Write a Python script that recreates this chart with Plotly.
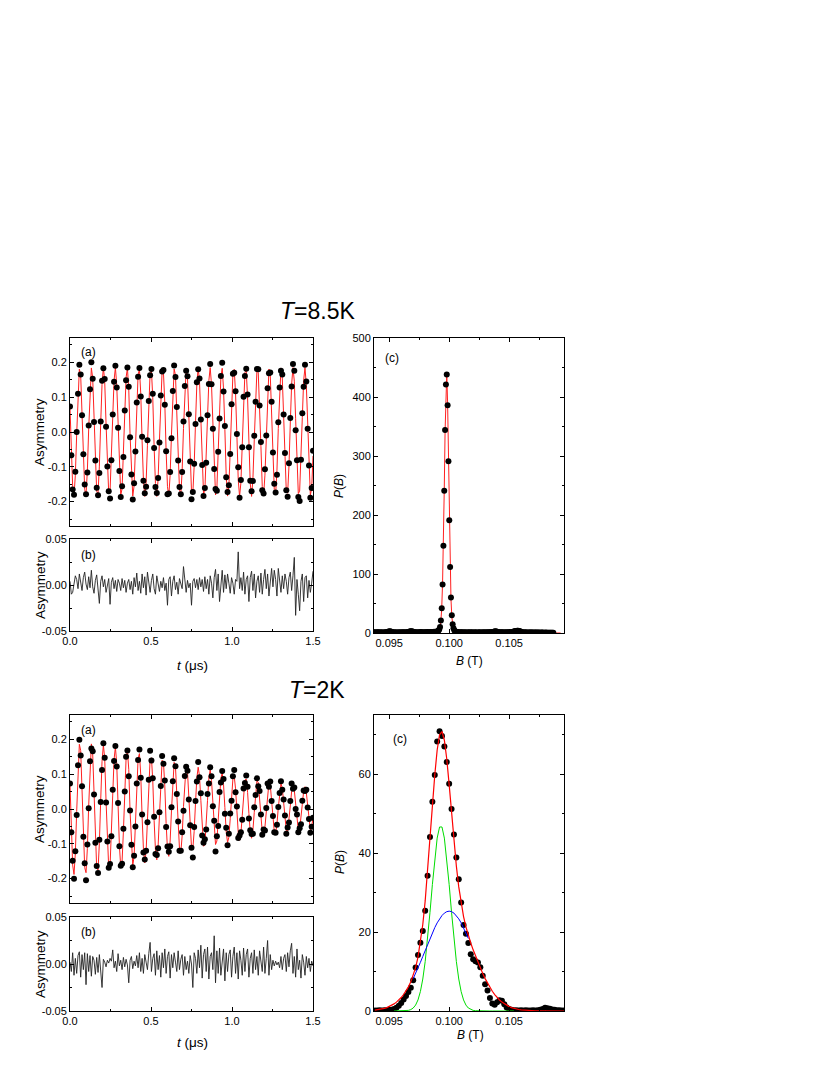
import plotly.graph_objects as go

FONT = "Liberation Sans, Arial, sans-serif"

# ---------------- muSR time spectra (time bin in microseconds) ----------------
T_BIN_US = 1.5 / 182

# T = 8.5 K : fitted asymmetry at each time bin
fit_85 = [
    0.069, -0.057, -0.157, -0.183, -0.124, -0.006, 0.114, 0.181, 0.163,
    0.054, -0.072, -0.165, -0.180, -0.111, 0.010, 0.126, 0.184, 0.155,
    0.038, -0.087, -0.171, -0.176, -0.098, 0.026, 0.137, 0.185, 0.146,
    0.023, -0.101, -0.177, -0.170, -0.084, 0.042, 0.148, 0.185, 0.135,
    0.006, -0.114, -0.181, -0.163, -0.069, 0.057, 0.157, 0.183, 0.124,
    -0.010, -0.126, -0.184, -0.155, -0.054, 0.072, 0.165, 0.180, 0.111,
    -0.026, -0.137, -0.185, -0.146, -0.038, 0.087, 0.171, 0.176, 0.098,
    -0.042, -0.148, -0.185, -0.135, -0.023, 0.101, 0.177, 0.170, 0.084,
    -0.057, -0.157, -0.183, -0.124, -0.006, 0.114, 0.181, 0.163, 0.069,
    -0.072, -0.165, -0.180, -0.111, 0.010, 0.126, 0.184, 0.155, 0.054,
    -0.087, -0.171, -0.176, -0.098, 0.026, 0.137, 0.185, 0.146, 0.038,
    -0.101, -0.177, -0.170, -0.084, 0.042, 0.148, 0.185, 0.135, 0.023,
    -0.114, -0.181, -0.163, -0.069, 0.057, 0.157, 0.183, 0.124, 0.006,
    -0.126, -0.184, -0.155, -0.054, 0.072, 0.165, 0.180, 0.111, -0.010,
    -0.137, -0.185, -0.146, -0.038, 0.087, 0.171, 0.176, 0.098, -0.026,
    -0.148, -0.185, -0.135, -0.023, 0.101, 0.177, 0.170, 0.084, -0.042,
    -0.157, -0.183, -0.124, -0.006, 0.114, 0.181, 0.163, 0.069, -0.057,
    -0.165, -0.180, -0.111, 0.010, 0.126, 0.184, 0.155, 0.054, -0.072,
    -0.171, -0.176, -0.098, 0.026, 0.137, 0.185, 0.146, 0.038, -0.087,
    -0.177, -0.170, -0.084, 0.042, 0.148, 0.185, 0.135, 0.023, -0.101,
    -0.181, -0.163, -0.069,
]

# T = 8.5 K : residual (data - fit)
resid_85 = [
    0.004, -0.010, -0.008, 0.003, 0.010, 0.006, -0.004, 0.012, 0.002, -0.006,
    0.008, 0.014, 0.001, -0.005, 0.009, -0.003, 0.016, -0.002, -0.009, 0.005,
    0.011, -0.006, -0.020, 0.004, 0.010, -0.002, 0.006, -0.008, 0.002, 0.007,
    -0.021, 0.003, 0.008, -0.004, 0.005, -0.007, 0.006, 0.002, -0.006, 0.007,
    -0.003, 0.005, -0.008, 0.002, 0.006, -0.005, 0.004, -0.010, 0.008, -0.002,
    0.013, -0.006, 0.004, -0.009, 0.012, -0.003, 0.009, -0.011, 0.014, 0.002,
    -0.008, 0.005, 0.012, -0.004, -0.010, 0.010, 0.003, -0.007, 0.004, -0.003,
    0.008, -0.006, 0.002, -0.022, 0.006, 0.009, -0.012, 0.004, 0.010, -0.005,
    0.003, -0.010, 0.007, 0.001, -0.004, 0.020, 0.006, -0.008, 0.005, -0.003,
    0.002, -0.022, 0.004, 0.007, -0.003, 0.006, -0.005, 0.008, -0.002, 0.006,
    -0.007, 0.009, -0.004, 0.006, -0.010, 0.010, 0.002, -0.014, 0.008, 0.017,
    -0.006, 0.012, -0.018, 0.004, 0.016, -0.008, 0.011, -0.004, 0.012, 0.002,
    -0.009, 0.008, 0.002, -0.010, 0.006, 0.004, 0.036, -0.004, 0.008, -0.006,
    0.014, -0.010, 0.006, 0.010, -0.018, 0.008, 0.015, -0.006, 0.012, -0.014,
    0.004, 0.010, -0.008, 0.013, -0.010, 0.006, 0.017, -0.004, 0.012, -0.012,
    0.008, 0.018, -0.002, 0.016, 0.006, -0.012, 0.018, 0.002, -0.008, 0.010,
    -0.004, 0.012, 0.004, -0.010, 0.008, 0.014, -0.006, 0.010, 0.030, -0.033,
    0.006, -0.010, -0.028, 0.004, 0.012, -0.018, 0.008, 0.010, -0.014, 0.005,
    -0.008, 0.002, 0.015,
]

# T = 2 K : fitted asymmetry at each time bin
fit_2 = [
    0.071, -0.059, -0.161, -0.188, -0.127, -0.007, 0.117, 0.186, 0.168,
    0.055, -0.074, -0.168, -0.183, -0.113, 0.010, 0.128, 0.187, 0.158,
    0.038, -0.086, -0.171, -0.175, -0.098, 0.026, 0.137, 0.184, 0.145,
    0.022, -0.097, -0.170, -0.164, -0.081, 0.040, 0.142, 0.178, 0.130,
    0.006, -0.105, -0.167, -0.151, -0.064, 0.053, 0.145, 0.169, 0.114,
    -0.008, -0.111, -0.162, -0.137, -0.048, 0.064, 0.145, 0.159, 0.098,
    -0.022, -0.115, -0.155, -0.122, -0.032, 0.073, 0.144, 0.147, 0.082,
    -0.033, -0.117, -0.146, -0.107, -0.018, 0.080, 0.140, 0.134, 0.066,
    -0.042, -0.116, -0.136, -0.092, -0.005, 0.084, 0.134, 0.121, 0.051,
    -0.050, -0.114, -0.125, -0.077, 0.007, 0.087, 0.127, 0.107, 0.037,
    -0.056, -0.111, -0.114, -0.064, 0.017, 0.089, 0.120, 0.095, 0.025,
    -0.061, -0.107, -0.103, -0.051, 0.025, 0.089, 0.112, 0.082, 0.014,
    -0.064, -0.102, -0.092, -0.039, 0.032, 0.088, 0.103, 0.070, 0.004,
    -0.066, -0.096, -0.081, -0.028, 0.038, 0.086, 0.094, 0.058, -0.005,
    -0.067, -0.090, -0.071, -0.019, 0.042, 0.083, 0.086, 0.048, -0.013,
    -0.067, -0.084, -0.061, -0.010, 0.046, 0.080, 0.077, 0.038, -0.019,
    -0.066, -0.077, -0.052, -0.003, 0.048, 0.076, 0.069, 0.029, -0.024,
    -0.065, -0.071, -0.044, 0.004, 0.050, 0.072, 0.061, 0.021, -0.029,
    -0.063, -0.065, -0.036, 0.009, 0.051, 0.068, 0.054, 0.014, -0.032,
    -0.061, -0.059, -0.029, 0.014, 0.051, 0.064, 0.047, 0.008, -0.035,
    -0.060, -0.054, -0.023,
]

# T = 2 K : residual (data - fit)
resid_2 = [
    0.002, -0.008, 0.012, -0.012, 0.006, -0.010, 0.009, 0.013, -0.014, 0.010,
    -0.006, 0.012, -0.022, 0.011, -0.008, 0.009, -0.013, 0.008, 0.004, -0.011,
    0.007, -0.009, 0.010, -0.006, -0.025, 0.005, 0.002, -0.003, 0.004, 0.001,
    0.006, 0.003, 0.015, -0.004, 0.003, -0.008, 0.011, -0.002, 0.004, -0.006,
    0.007, -0.003, 0.005, -0.001, -0.020, 0.004, 0.008, -0.005, 0.003, -0.002,
    0.009, -0.004, 0.012, -0.008, 0.006, -0.010, 0.010, 0.002, -0.006, 0.011,
    0.023, -0.008, 0.006, 0.011, -0.012, 0.014, -0.006, 0.009, -0.014, 0.012,
    -0.004, 0.016, -0.010, 0.008, 0.013, -0.015, 0.010, -0.004, 0.012, 0.002,
    -0.008, 0.014, -0.006, 0.005, 0.010, -0.012, 0.008, -0.006, 0.003, -0.010,
    0.009, 0.000, -0.025, 0.012, 0.006, -0.010, 0.015, -0.004, 0.020, -0.015,
    0.010, 0.016, -0.008, 0.018, -0.016, 0.008, 0.012, -0.006, 0.030, -0.020,
    0.014, -0.010, 0.017, -0.012, 0.006, 0.016, -0.018, 0.012, -0.008, 0.010,
    0.015, -0.014, 0.008, 0.018, -0.010, 0.012, -0.016, 0.014, 0.004, -0.012,
    0.017, -0.008, 0.010, 0.016, -0.014, 0.006, 0.012, -0.010, 0.015, -0.006,
    0.008, -0.012, 0.014, 0.003, -0.008, 0.018, -0.010, 0.006, 0.025, -0.012,
    0.010, -0.006, 0.004, -0.002, 0.003, -0.001, 0.002, -0.004, 0.008, -0.006,
    0.006, 0.010, -0.008, 0.012, -0.003, 0.014, 0.022, -0.010, 0.008, -0.014,
    0.016, -0.006, 0.004, -0.015, 0.010, 0.002, -0.012, 0.008, -0.004, 0.006,
    -0.008, 0.003, -0.002,
]

# ---------------- field distributions P(B) ----------------
B85_START, B85_STEP = 0.09364, 0.00007
pb_85 = [
    1.0, 0.8, 1.2, 0.9, 0.6, 1.1, 1.4, 0.9, 0.7, 1.0,
    1.3, 0.8, 0.5, 0.9, 1.2, 1.0, 1.4, 1.8, 2.2, 2.6,
    2.8, 2.5, 2.0, 1.5, 1.0, 0.7, 0.9, 1.1, 0.8, 0.6,
    0.9, 1.2, 1.0, 0.7, 0.9, 1.3, 1.1, 0.8, 1.0, 1.2,
    0.9, 1.1, 1.5, 2.0, 2.4, 2.8, 3.0, 2.7, 2.2, 1.6,
    1.1, 0.8, 1.0, 1.3, 0.9, 0.7, 1.2, 1.5, 1.1, 0.8,
    1.0, 1.4, 1.2, 0.9, 1.3, 1.7, 1.4, 1.0, 1.2, 1.6,
    1.3, 1.0, 1.5, 2.0, 1.6, 1.8, 2.4, 3.0, 4.0, 6.0,
    10, 21, 42, 82, 148, 241, 344, 421, 438, 386,
    291, 191, 112, 60, 30, 15, 8, 4.5, 3.0, 2.2,
    1.8, 1.5, 1.2, 1.0, 0.8, 1.1, 1.3, 0.9, 0.7, 1.0,
    1.2, 0.9, 0.6, 0.8, 1.1, 1.0, 0.7, 0.9, 1.2, 0.8,
    0.6, 0.9, 1.1, 0.8, 0.5, 0.7, 1.0, 1.2, 0.9, 0.6,
    0.8, 1.1, 0.9, 0.7, 1.0, 1.3, 1.0, 0.8, 1.1, 1.4,
    1.0, 1.2, 1.5, 1.9, 2.3, 2.6, 2.8, 2.7, 2.3, 1.8,
    1.3, 1.0, 0.8, 1.1, 1.2, 0.9, 0.8, 1.0, 1.3, 1.0,
    0.8, 1.1, 1.4, 1.2, 0.9, 1.2, 1.6, 2.0, 2.5, 2.9,
    3.3, 3.6, 3.8, 3.9, 3.6, 3.1, 2.5, 1.9, 1.4, 1.0,
    0.7, 0.9, 1.1, 0.8, 0.6, 0.8, 1.0, 0.9, 0.7, 0.8,
    1.0, 0.8, 0.6, 0.7, 0.9, 0.8, 0.6, 0.7, 0.8, 0.6,
    0.5, 0.7, 0.8, 0.6, 0.5, 0.6, 0.7, 0.5, 0.4, 0.6,
    0.5, 0.4, 0.5, 0.3, 0.4, 0.3,
]
fitB_85 = [0.0937, 0.09910, 0.09917, 0.09924, 0.09931, 0.09938, 0.09945, 0.09952,
           0.09959, 0.09966, 0.09973, 0.09980, 0.09987, 0.09994, 0.10001, 0.10008,
           0.10015, 0.10022, 0.10029, 0.10036, 0.10043, 0.10050, 0.1093]
fitP_85 = [0, 0.5, 2.5, 8, 20, 42, 85, 150, 243, 342, 418, 440, 390, 295, 195,
           113, 58, 28, 12, 5, 2, 0.5, 0]

B2_START, B2_STEP = 0.0938, 0.0002
pb_2 = [
    0.1, 0.1, 0.2, 0.1, 0.2, 0.2, 0.3, 0.3, 0.5, 0.8,
    1.3, 2.0, 2.9, 3.8, 4.8, 5.9, 7.8, 11.0, 14.2, 17.3,
    20.3, 25.4, 34.3, 44.1, 53.0, 59.8, 68.3, 70.9, 69.7, 67.0,
    63.1, 57.6, 51.2, 44.7, 38.9, 33.4, 27.5, 21.8, 19.6, 17.2,
    14.4, 13.1, 12.6, 12.3, 11.1, 8.9, 6.8, 5.2, 3.3, 1.9,
    1.6, 2.2, 2.7, 2.6, 1.7, 0.9, 0.5, 0.3, 0.2, 0.2,
    0.1, 0.2, 0.1, 0.2, 0.1, 0.1, 0.2, 0.1, 0.2, 0.3,
    0.5, 0.8, 0.7, 0.6, 0.4, 0.3, 0.2, 0.2, 0.1, 0.1,
]
fit_total_2 = [
    0.21, 0.28, 0.38, 0.50, 0.66, 0.86, 1.11, 1.42, 1.80, 2.25,
    2.79, 3.42, 4.18, 5.08, 6.12, 7.39, 8.97, 11.00, 13.67, 17.24,
    21.92, 27.89, 35.15, 43.33, 51.85, 59.80, 66.14, 69.98, 70.82, 68.61,
    63.84, 57.35, 50.13, 43.07, 36.74, 31.45, 27.25, 23.93, 21.30, 19.13,
    17.24, 15.50, 13.89, 12.35, 10.88, 9.50, 8.21, 7.03, 5.96, 5.01,
    4.16, 3.42, 2.79, 2.25, 1.80, 1.42, 1.11, 0.86, 0.66, 0.50,
    0.38, 0.28, 0.21, 0.15, 0.11, 0.08, 0.06, 0.04, 0.03, 0.02,
    0.01, 0.01, 0.01, 0, 0, 0, 0, 0, 0, 0,
]
fit_narrow_2 = (
    [None] * 8
    + [0, 0, 0, 0, 0.03, 0.07, 0.16, 0.36, 0.76, 1.50, 2.80, 4.92, 8.10, 12.55,
       18.27, 24.96, 32.05, 38.67, 43.81, 46.63, 46.63, 43.81, 38.67, 32.05,
       24.96, 18.27, 12.55, 8.10, 4.92, 2.80, 1.50, 0.76, 0.36, 0.16, 0.07,
       0.03, 0.01]
    + [0] * 14
    + [None] * 21
)
fit_broad_2 = (
    [None] * 16
    + [8.21, 9.50, 10.87, 12.32, 13.82, 15.34, 16.88, 18.37, 19.80, 21.13,
       22.33, 23.35, 24.19, 24.80, 25.17, 25.30, 25.17, 24.80, 24.19, 23.35,
       22.33, 21.13, 19.80, 18.37]
    + [None] * 40
)

# derived grids / series
t_85 = [i * T_BIN_US for i in range(len(fit_85))]
t_2 = [i * T_BIN_US for i in range(len(fit_2))]
asym_85 = [round(f + r, 4) for f, r in zip(fit_85, resid_85)]
asym_2 = [round(f + r, 4) for f, r in zip(fit_2, resid_2)]
B_85 = [B85_START + i * B85_STEP for i in range(len(pb_85))]
B_2 = [B2_START + i * B2_STEP for i in range(len(pb_2))]

asym_ticks = [-0.2, -0.1, 0.0, 0.1, 0.2]
asym_ticktext = ["-0.2", "-0.1", "0.0", "0.1", "0.2"]
res_ticks = [-0.05, 0.0, 0.05]
res_ticktext = ["-0.05", "0.00", "0.05"]
t_ticks = [0.0, 0.5, 1.0, 1.5]
t_ticktext = ["0.0", "0.5", "1.0", "1.5"]
B_ticks = [0.095, 0.100, 0.105]
B_ticktext = ["0.095", "0.100", "0.105"]

W, H = 830, 1075
OFF = 8  # page margin around the plot div


def px_x(a, b):
    return [(a - OFF) / W, (b - OFF) / W]


def px_y(top, bottom):
    return [1 - (bottom - OFF) / H, 1 - (top - OFF) / H]


def axis(domain, rng, anchor, tickvals=None, ticktext=None, dtick=None,
         minor_dtick=None, labels=True):
    d = dict(domain=domain, range=rng, anchor=anchor, showline=True,
             linecolor="black", linewidth=1, mirror="allticks", ticks="inside",
             ticklen=4, tickwidth=1, tickcolor="black", showgrid=False,
             zeroline=False, showticklabels=labels, automargin=False,
             tickfont=dict(family=FONT, size=11, color="black"))
    if tickvals is not None:
        d.update(tickmode="array", tickvals=tickvals, ticktext=ticktext)
    else:
        d.update(tickmode="linear", tick0=0, dtick=dtick)
    if minor_dtick:
        d["minor"] = dict(ticks="inside", ticklen=2, tickcolor="black",
                          tick0=0, dtick=minor_dtick, showgrid=False)
    return d


fig = go.Figure()

# ---- T=8.5K (a)
fig.add_trace(go.Scatter(x=t_85, y=fit_85, mode="lines",
                         line=dict(color="#ff2020", width=1), xaxis="x", yaxis="y"))
fig.add_trace(go.Scatter(x=t_85, y=asym_85, mode="markers",
                         marker=dict(color="black", size=6), xaxis="x", yaxis="y"))
# ---- T=8.5K (b)
fig.add_trace(go.Scatter(x=t_85, y=resid_85, mode="lines",
                         line=dict(color="#222222", width=0.9), xaxis="x2", yaxis="y2"))
# ---- T=8.5K (c)
fig.add_trace(go.Scatter(x=fitB_85, y=fitP_85, mode="lines",
                         line=dict(color="#ff2020", width=1), xaxis="x3", yaxis="y3"))
fig.add_trace(go.Scatter(x=B_85, y=pb_85, mode="markers",
                         marker=dict(color="black", size=6), xaxis="x3", yaxis="y3"))
# ---- T=2K (a)
fig.add_trace(go.Scatter(x=t_2, y=fit_2, mode="lines",
                         line=dict(color="#ff2020", width=1), xaxis="x4", yaxis="y4"))
fig.add_trace(go.Scatter(x=t_2, y=asym_2, mode="markers",
                         marker=dict(color="black", size=6), xaxis="x4", yaxis="y4"))
# ---- T=2K (b)
fig.add_trace(go.Scatter(x=t_2, y=resid_2, mode="lines",
                         line=dict(color="#222222", width=0.9), xaxis="x5", yaxis="y5"))
# ---- T=2K (c)
fig.add_trace(go.Scatter(x=B_2, y=pb_2, mode="markers",
                         marker=dict(color="black", size=6), xaxis="x6", yaxis="y6"))
fig.add_trace(go.Scatter(x=B_2, y=fit_narrow_2, mode="lines", connectgaps=False,
                         line=dict(color="#00dd00", width=1), xaxis="x6", yaxis="y6"))
fig.add_trace(go.Scatter(x=B_2, y=fit_broad_2, mode="lines", connectgaps=False,
                         line=dict(color="#0000ff", width=1), xaxis="x6", yaxis="y6"))
fig.add_trace(go.Scatter(x=B_2, y=fit_total_2, mode="lines",
                         line=dict(color="#ff0000", width=1.2), xaxis="x6", yaxis="y6"))

left_x = px_x(70, 313)
right_x = px_x(374, 564)
B_range = [0.09373, 0.10958]

layout_axes = dict(
    xaxis=axis(left_x, [0, 1.5], "y", t_ticks, t_ticktext, minor_dtick=0.25, labels=False),
    yaxis=axis(px_y(338, 526), [-0.27, 0.27], "x", asym_ticks, asym_ticktext, minor_dtick=0.05),
    xaxis2=axis(left_x, [0, 1.5], "y2", t_ticks, t_ticktext, minor_dtick=0.25),
    yaxis2=axis(px_y(539, 631), [-0.05, 0.05], "x2", res_ticks, res_ticktext, minor_dtick=0.025),
    xaxis3=axis(right_x, B_range, "y3", B_ticks, B_ticktext, minor_dtick=0.0025),
    yaxis3=axis(px_y(338, 633), [0, 500], "x3", dtick=100, minor_dtick=50),
    xaxis4=axis(left_x, [0, 1.5], "y4", t_ticks, t_ticktext, minor_dtick=0.25, labels=False),
    yaxis4=axis(px_y(715, 903), [-0.27, 0.27], "x4", asym_ticks, asym_ticktext, minor_dtick=0.05),
    xaxis5=axis(left_x, [0, 1.5], "y5", t_ticks, t_ticktext, minor_dtick=0.25),
    yaxis5=axis(px_y(917, 1011), [-0.05, 0.05], "x5", res_ticks, res_ticktext, minor_dtick=0.025),
    xaxis6=axis(right_x, B_range, "y6", B_ticks, B_ticktext, minor_dtick=0.0025),
    yaxis6=axis(px_y(715, 1011), [0, 75], "x6", dtick=20, minor_dtick=10),
)


def ann(text, x, y, size, angle=0):
    return dict(text=text, x=(x - OFF) / W, y=1 - (y - OFF) / H, xref="paper",
                yref="paper", showarrow=False, textangle=angle, xanchor="center",
                yanchor="middle", font=dict(family=FONT, size=size, color="black"))


annotations = [
    ann("<i>T</i>=8.5K", 317, 311, 23),
    ann("<i>T</i>=2K", 317, 690, 23),
    ann("(a)", 88, 352, 12), ann("(b)", 88, 555, 12), ann("(c)", 392, 358, 12),
    ann("(a)", 88, 730, 12), ann("(b)", 88, 932, 12), ann("(c)", 400, 739, 12),
    ann("Asymmetry", 39, 432, 13.5, -90), ann("Asymmetry", 40, 585, 13.5, -90),
    ann("Asymmetry", 39, 809, 13.5, -90), ann("Asymmetry", 40, 964, 13.5, -90),
    ann("<i>t</i> (μs)", 192, 665, 13.5), ann("<i>t</i> (μs)", 192, 1042, 13.5),
    ann("<i>P</i>(<i>B</i>)", 339, 486, 12, -90), ann("<i>P</i>(<i>B</i>)", 340, 862, 12, -90),
    ann("<i>B</i> (T)", 469, 661, 12), ann("<i>B</i> (T)", 470, 1035, 12),
]

fig.update_layout(
    width=W, height=H, margin=dict(l=0, r=0, t=0, b=0),
    paper_bgcolor="white", plot_bgcolor="white", showlegend=False,
    font=dict(family=FONT, color="black"),
    annotations=annotations, **layout_axes,
)

fig.write_html("out.html")
